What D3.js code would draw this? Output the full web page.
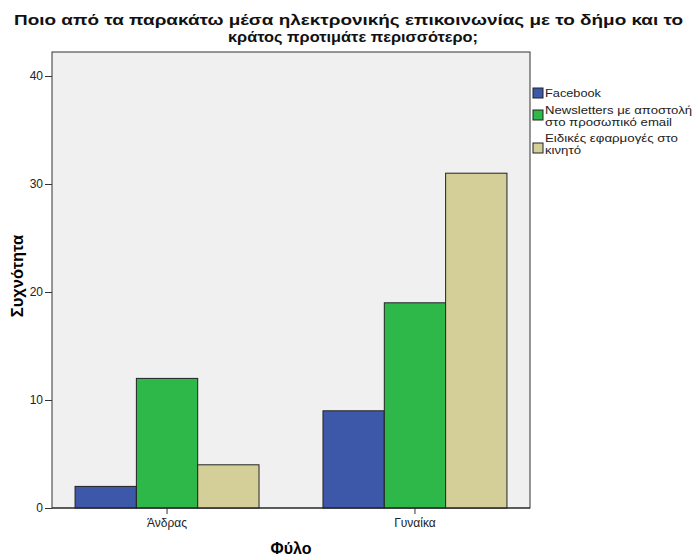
<!DOCTYPE html>
<html><head><meta charset="utf-8">
<script src="https://cdn.jsdelivr.net/npm/d3@7"></script>
<style>body{margin:0;background:#fff}svg{display:block}</style>
</head><body>
<script>
const categories = ["Άνδρας", "Γυναίκα"];
const seriesNames = ["Facebook", "Newsletters με αποστολή στο προσωπικό email", "Ειδικές εφαρμογές στο κινητό"];
const facebook = [2, 9];
const newsletters = [12, 19];
const apps = [4, 31];
const yTicks = [0, 10, 20, 30, 40];
const colors = ["#3d57a9", "#2fb84a", "#d4cf98"];
const legendLines = [["Facebook"], ["Newsletters με αποστολή", "στο προσωπικό email"], ["Ειδικές εφαρμογές στο", "κινητό"]];
const series = [facebook, newsletters, apps];

const W = 697, H = 558;
const L = 52, R = 530, T = 52, B = 508;
const FONT = "Arial, 'Liberation Sans', sans-serif";
const svg = d3.select("body").append("svg").attr("width", W).attr("height", H)
  .style("font-family", FONT);

svg.append("rect").attr("x", L).attr("y", T).attr("width", R - L).attr("height", B - T)
  .attr("fill", "#f0f0f0").attr("stroke", "#333").attr("stroke-width", 1);

const y = d3.scaleLinear().domain([0, 40]).range([B, 76]);
const x0 = d3.scaleBand().domain(categories).range([L, R]).paddingInner(0.258).paddingOuter(0.093);
const x1 = d3.scaleBand().domain(d3.range(series.length)).range([0, x0.bandwidth()]);

categories.forEach((c, ci) => {
  series.forEach((s, si) => {
    svg.append("rect")
      .attr("x", x0(c) + x1(si)).attr("y", y(s[ci]))
      .attr("width", x1.bandwidth()).attr("height", B - y(s[ci]))
      .attr("fill", colors[si]).attr("stroke", "#222").attr("stroke-width", 1);
  });
});

const yAxis = svg.append("g").attr("transform", `translate(${L},0)`)
  .call(d3.axisLeft(y).tickValues(yTicks).tickSize(7).tickPadding(2).tickFormat(d3.format("d")));
yAxis.select(".domain").remove();
yAxis.selectAll("line").attr("stroke", "#333");
yAxis.selectAll("text").attr("font-size", 12).attr("fill", "#222").attr("font-family", FONT);

const xAxis = svg.append("g").attr("transform", `translate(0,${B})`)
  .call(d3.axisBottom(x0).tickSize(6).tickPadding(4));
xAxis.select(".domain").remove();
xAxis.selectAll("line").attr("stroke", "#333");
xAxis.selectAll("text").attr("font-size", 12).attr("fill", "#222").attr("font-family", FONT);

svg.append("line").attr("x1", L).attr("x2", R).attr("y1", B).attr("y2", B).attr("stroke", "#222");

svg.append("text").attr("x", 348.5).attr("y", 25).attr("text-anchor", "middle")
  .attr("font-size", 15.5).attr("font-weight", "bold").attr("fill", "#111")
  .attr("textLength", 669).attr("lengthAdjust", "spacingAndGlyphs")
  .text("Ποιο από τα παρακάτω μέσα ηλεκτρονικής επικοινωνίας με το δήμο και το");
svg.append("text").attr("x", 353).attr("y", 42).attr("text-anchor", "middle")
  .attr("font-size", 15.5).attr("font-weight", "bold").attr("fill", "#111")
  .attr("textLength", 250).attr("lengthAdjust", "spacingAndGlyphs")
  .text("κράτος προτιμάτε περισσότερο;");

svg.append("text").attr("transform", "translate(23,276) rotate(-90)").attr("text-anchor", "middle")
  .attr("font-size", 16.5).attr("font-weight", "bold").text("Συχνότητα");
svg.append("text").attr("x", 291).attr("y", 554).attr("text-anchor", "middle")
  .attr("font-size", 16).attr("font-weight", "bold").text("Φύλο");

const legY = [88, 110, 143];
const textY = [[97], [114, 125.5], [142, 153.5]];
const legLen = [[56], [147, 127], [133, 36]];
legendLines.forEach((lines, i) => {
  svg.append("rect").attr("x", 533).attr("y", legY[i]).attr("width", 10).attr("height", 10)
    .attr("fill", colors[i]).attr("stroke", "#222");
  lines.forEach((t, j) => {
    svg.append("text").attr("x", 545).attr("y", textY[i][j]).attr("font-size", 11).attr("fill", "#222")
      .attr("textLength", legLen[i][j]).attr("lengthAdjust", "spacingAndGlyphs").text(t);
  });
});
</script>
</body></html>
